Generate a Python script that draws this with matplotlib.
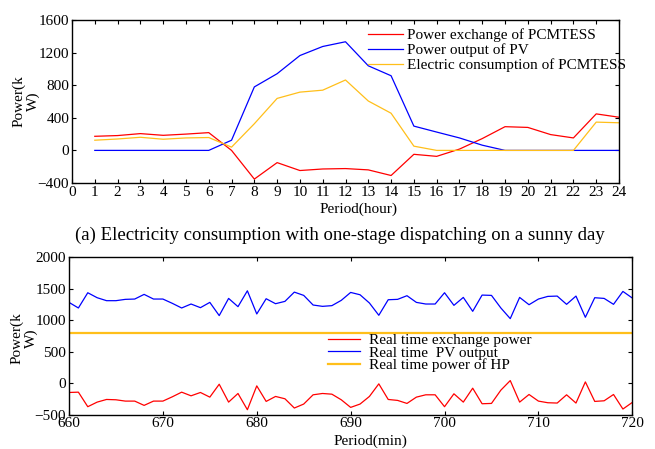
import matplotlib
matplotlib.use("Agg")
import matplotlib.pyplot as plt

plt.rcParams['font.family'] = ['Liberation Serif', 'DejaVu Serif']
plt.rcParams['font.size'] = 11

# (a) one-stage dispatching, hourly
hours = list(range(1, 25))
exchange = [173, 182, 206, 185, 200, 218, 0, -352, -150, -247, -228, -223,
            -239, -308, -48, -73, 16, 145, 291, 282, 194, 153, 448, 407]
pv = [0, 0, 0, 0, 0, 0, 125, 779, 941, 1164, 1275, 1333,
      1038, 916, 298, 225, 153, 64, 0, 0, 0, 0, 0, 0]
consumption = [125, 140, 161, 137, 153, 158, 40, 327, 638, 715, 739, 864,
               606, 456, 52, 0, 0, 0, 0, 0, 0, 0, 347, 339]

# (b) real time, per minute 660..720
minutes = list(range(660, 721))
rt_pv = [1284, 1195, 1437, 1358, 1311, 1311, 1332, 1337, 1411, 1337,
         1337, 1269, 1195, 1258, 1200, 1284, 1074, 1347, 1216, 1468,
         1100, 1342, 1263, 1300, 1447, 1395, 1242, 1221, 1232, 1316,
         1442, 1405, 1274, 1079, 1326, 1332, 1390, 1284, 1258, 1258,
         1437, 1237, 1363, 1142, 1400, 1395, 1195, 1026, 1363, 1247,
         1337, 1379, 1384, 1253, 1384, 1047, 1358, 1347, 1253, 1458,
         1353]
rt_exchange = [-147, -142, -373, -300, -258, -263, -284, -284, -352, -284,
               -284, -216, -142, -200, -147, -221, -16, -300, -163, -421,
               -42, -289, -210, -247, -394, -331, -184, -163, -174, -263,
               -384, -331, -210, -10, -258, -273, -321, -221, -184, -184,
               -373, -168, -300, -79, -326, -321, -110, 42, -300, -179,
               -284, -310, -315, -184, -315, 21, -289, -279, -179, -410,
               -305]
rt_hp = [800] * len(minutes)

RED = '#FF0000'
BLUE = '#0000FF'
GOLD = '#FFBF1A'

fig = plt.figure(figsize=(6.55, 4.49), dpi=100)

def style(ax):
    ax.tick_params(direction='in', length=3, width=0.8, top=True, right=True,
                   labelsize=11, pad=2)
    for s in ax.spines.values():
        s.set_linewidth(1.0)

# top panel
ax1 = fig.add_axes([72 / 655, 1 - 183 / 449, 547 / 655, 163 / 449])
ax1.plot(hours, exchange, color=RED, lw=0.9, label='Power exchange of PCMTESS')
ax1.plot(hours, pv, color=BLUE, lw=0.9, label='Power output of PV')
ax1.plot(hours, consumption, color=GOLD, lw=0.9, label='Electric consumption of PCMTESS')
ax1.set_xlim(0, 24)
ax1.set_ylim(-400, 1600)
ax1.set_xticks(range(0, 25))
ax1.set_yticks(range(-400, 1601, 400))
style(ax1)
ax1.legend(loc='upper left', bbox_to_anchor=(0.541, 0.947), frameon=False,
           borderpad=0, borderaxespad=0, handlelength=2.3, handletextpad=0.25,
           labelspacing=0.08, fontsize=11)

fig.text(26 / 655, 1 - 101 / 449, 'Power(k\nW)', rotation=90, ha='center',
         va='center', ma='center', fontsize=11, linespacing=1.0)
fig.text(359 / 655, 1 - 209 / 449, 'Period(hour)', ha='center', va='center', fontsize=11)
fig.text(340 / 655, 1 - 235 / 449,
         '(a) Electricity consumption with one-stage dispatching on a sunny day',
         ha='center', va='center', fontsize=13.5)

# bottom panel
ax2 = fig.add_axes([69 / 655, 1 - 414.7 / 449, 563.3 / 655, 157.4 / 449])
ax2.plot(minutes, rt_exchange, color=RED, lw=0.9, label='Real time exchange power')
ax2.plot(minutes, rt_pv, color=BLUE, lw=0.9, label='Real time  PV output')
ax2.plot(minutes, rt_hp, color=GOLD, lw=1.6, label='Real time power of HP')
ax2.set_xlim(660, 720)
ax2.set_ylim(-500, 2000)
ax2.set_xticks(range(660, 721, 10))
ax2.set_yticks(range(-500, 2001, 500))
style(ax2)
ax2.legend(loc='upper left', bbox_to_anchor=(0.46, 0.516), frameon=False,
           borderpad=0, borderaxespad=0, handlelength=2.1, handletextpad=0.55,
           labelspacing=-0.08, fontsize=11)

fig.text(24 / 655, 1 - 338 / 449, 'Power(k\nW)', rotation=90, ha='center',
         va='center', ma='center', fontsize=11, linespacing=1.0)
fig.text(370 / 655, 1 - 441 / 449, 'Period(min)', ha='center', va='center', fontsize=11)

fig.savefig('out.png', dpi=100)
